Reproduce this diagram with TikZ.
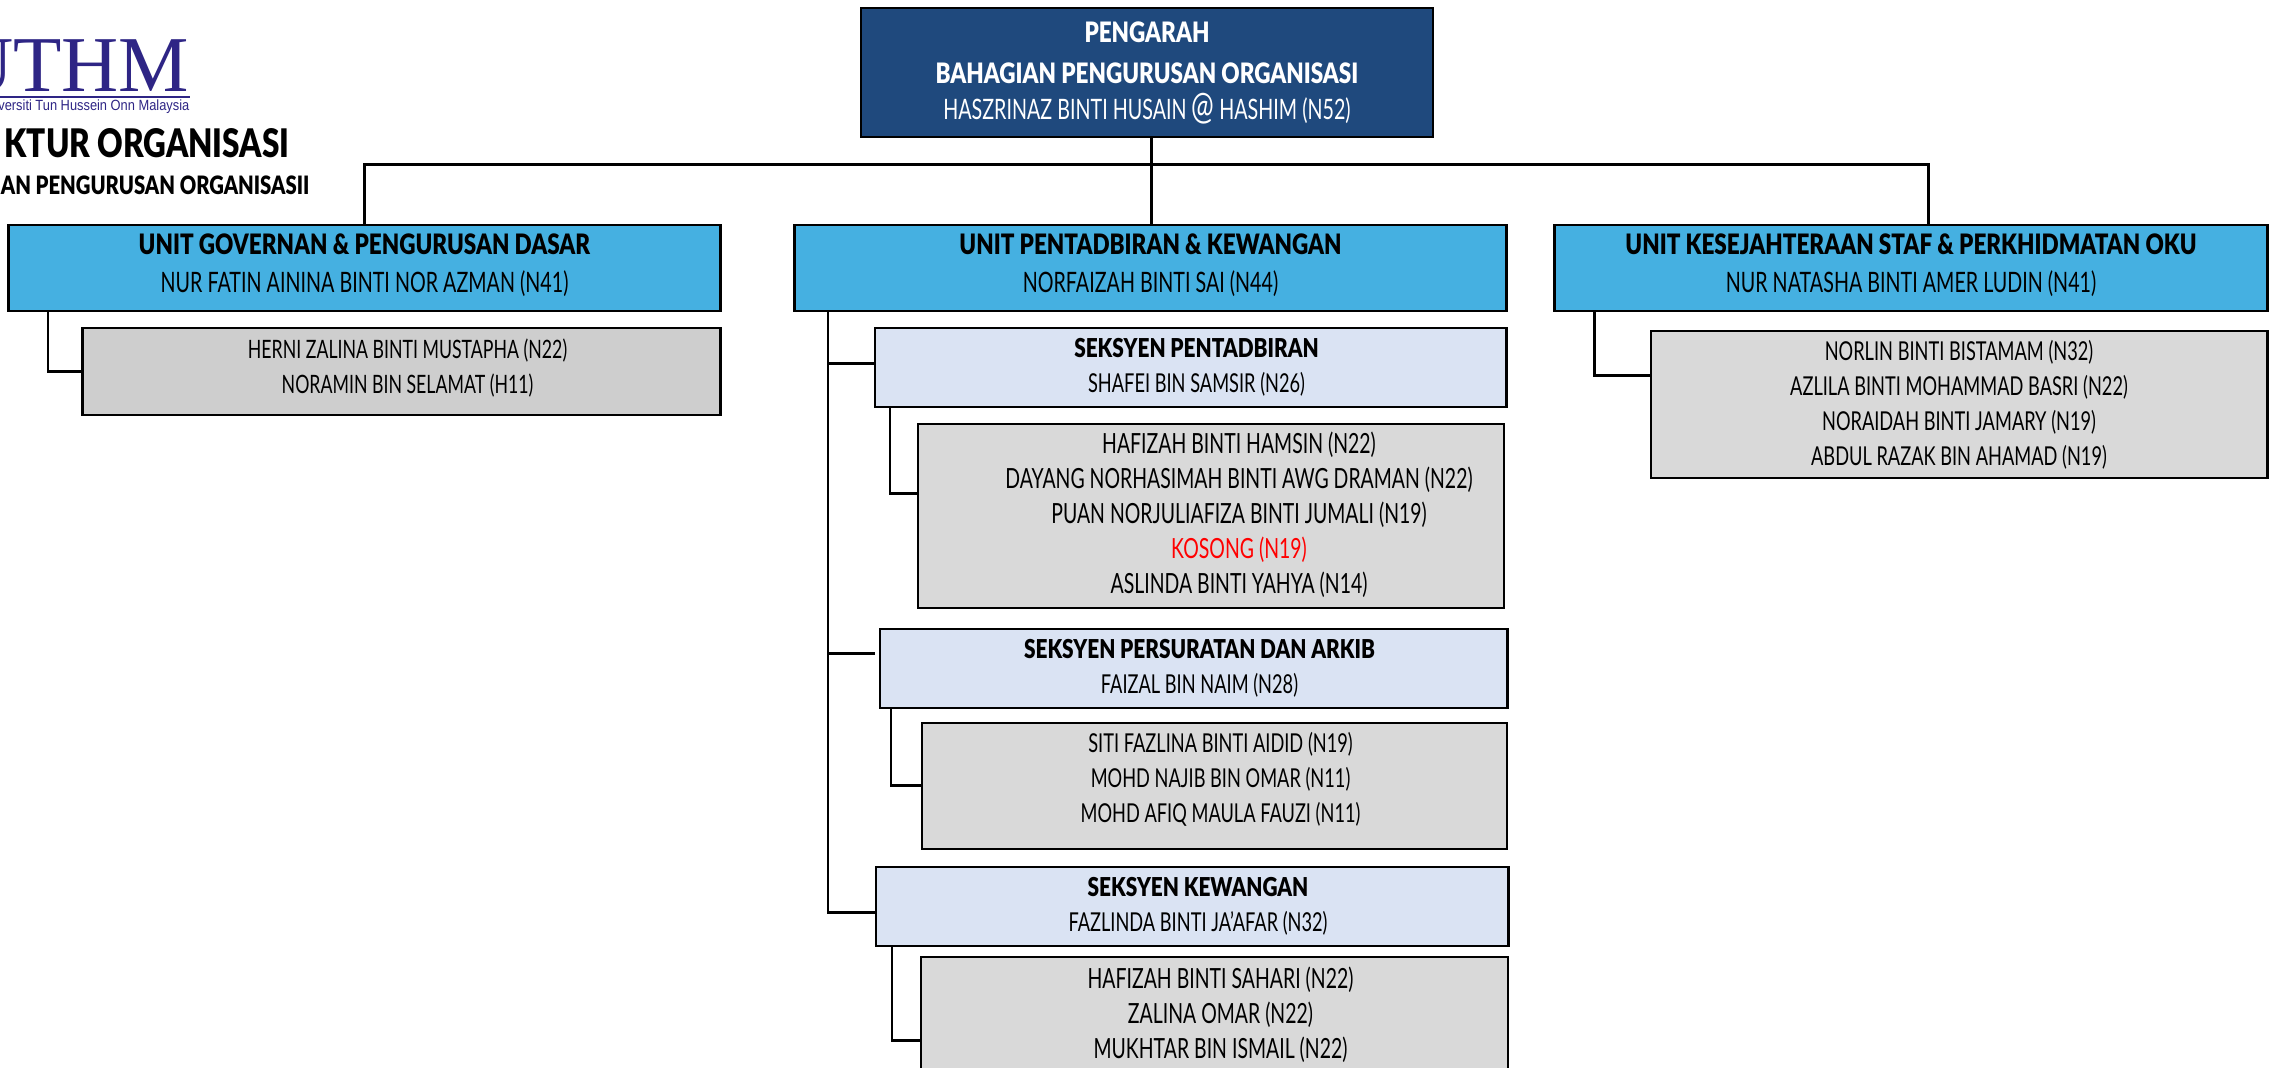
\documentclass[tikz,border=0pt]{standalone}
\usepackage{fontspec}
\setmainfont{Lato}[FakeStretch=0.70, BoldFont={Lato Black}, BoldFeatures={FakeStretch=0.80}]
\newfontfamily\logofont{Liberation Serif}
\newfontfamily\smallfont{Liberation Sans}[FakeStretch=0.87]
\definecolor{headblue}{HTML}{1F497D}
\definecolor{unitblue}{HTML}{45B0E1}
\definecolor{secblue}{HTML}{DAE3F3}
\definecolor{staffgrey}{HTML}{D9D9D9}
\definecolor{uthmblue}{HTML}{2E2585}
\newcommand{\pad}[1]{\rule[-#1]{0pt}{#1}}
\tikzset{
    box/.style={draw=black, line width=0.75pt, inner sep=0pt, align=center, font=\fontsize{8}{9.96}\selectfont},
    headbox/.style={box, fill=headblue, text=white, minimum width=5.72cm, minimum height=1.29cm},
    unitbox/.style={box, fill=unitblue, minimum height=0.86cm},
    secbox/.style={box, fill=secblue, minimum height=0.79cm, font=\fontsize{7.4}{9.96}\selectfont},
    staffbox/.style={box, fill=staffgrey, font=\fontsize{7.4}{9.96}\selectfont},
    widestaff/.style={font=\fontsize{7.9}{9.96}\selectfont},
    link/.style={draw=black, line width=0.85pt},
    title/.style={inner sep=0pt, anchor=base east},
}
\begin{document}
\begin{tikzpicture}[x=0.01cm, y=-0.01cm]
    \useasboundingbox (0,0) rectangle (2277,1068);
    \clip (0,0) rectangle (2277,1068);
    \fill[white] (0,0) rectangle (2277,1068);
% logo and title
\node[title, text=uthmblue, font=\logofont\fontsize{22.5}{24}\selectfont] (logo) at (190,92) {UTHM};
\coordinate (rulea) at (0,97);
\coordinate (ruleb) at (190,97);
\draw[uthmblue, line width=0.4pt] (rulea) -- (ruleb);
\node[title, text=uthmblue, font=\smallfont\fontsize{4.2}{5}\selectfont] (uni) at (190,111) {versiti Tun Hussein Onn Malaysia};
\node[title, font=\bfseries\fontsize{11.2}{12}\selectfont] (titlea) at (290,158) {KTUR ORGANISASI};
\node[title, font=\bfseries\fontsize{7.2}{8}\selectfont] (titleb) at (310,195) {AN PENGURUSAN ORGANISASII};
% boxes
\node[headbox] (head) at (1147,72.5) {\textbf{PENGARAH}\\[0.6mm]\textbf{BAHAGIAN PENGURUSAN ORGANISASI}\\[0.1mm]HASZRINAZ BINTI HUSAIN {\fontsize{11}{9.96}\selectfont @} HASHIM (N52)};
\node[unitbox, minimum width=7.11cm] (gov) at (364.5,268) {\textbf{UNIT GOVERNAN \& PENGURUSAN DASAR}\\[0.3mm]NUR FATIN AININA BINTI NOR AZMAN (N41)\pad{2.5pt}};
\node[unitbox, minimum width=7.11cm] (admin) at (1150.5,268) {\textbf{UNIT PENTADBIRAN \& KEWANGAN}\\[0.3mm]NORFAIZAH BINTI SAI (N44)\pad{2.5pt}};
\node[unitbox, minimum width=7.12cm] (welfare) at (1911,268) {\textbf{UNIT KESEJAHTERAAN STAF \& PERKHIDMATAN OKU}\\[0.3mm]NUR NATASHA BINTI AMER LUDIN (N41)\pad{2.5pt}};
\node[staffbox, minimum width=6.37cm, minimum height=0.87cm, fill=staffgrey!95!black, font=\fontsize{7.2}{9.96}\selectfont] (govstaff) at (401.5,371.5) {\hspace*{1.2mm}HERNI ZALINA BINTI MUSTAPHA (N22)\\\hspace*{1.2mm}NORAMIN BIN SELAMAT (H11)\pad{3pt}};
\node[staffbox, minimum width=6.16cm, minimum height=1.47cm] (welfstaff) at (1959,404.5) {NORLIN BINTI BISTAMAM (N32)\\AZLILA BINTI MOHAMMAD BASRI (N22)\\NORAIDAH BINTI JAMARY (N19)\\ABDUL RAZAK BIN AHAMAD (N19)};
\node[secbox, minimum width=6.31cm] (secadmin) at (1190.5,367.5) {\hspace*{1.2mm}\textbf{SEKSYEN PENTADBIRAN}\\\hspace*{1.2mm}SHAFEI BIN SAMSIR (N26)};
\node[staffbox, widestaff, minimum width=5.86cm, minimum height=1.84cm] (adminstaff) at (1211,516) {\hspace*{5.6mm}HAFIZAH BINTI HAMSIN (N22)\\\hspace*{5.6mm}DAYANG NORHASIMAH BINTI AWG DRAMAN (N22)\\\hspace*{5.6mm}PUAN NORJULIAFIZA BINTI JUMALI (N19)\\\hspace*{5.6mm}\textcolor{red}{KOSONG (N19)}\\\hspace*{5.6mm}ASLINDA BINTI YAHYA (N14)\pad{2pt}};
\node[secbox, minimum width=6.27cm] (secfile) at (1193.5,668.5) {\hspace*{1.2mm}\textbf{SEKSYEN PERSURATAN DAN ARKIB}\\\hspace*{1.2mm}FAIZAL BIN NAIM (N28)};
\node[staffbox, minimum width=5.85cm, minimum height=1.26cm] (filestaff) at (1214.5,786) {\hspace*{1.2mm}SITI FAZLINA BINTI AIDID (N19)\\\hspace*{1.2mm}MOHD NAJIB BIN OMAR (N11)\\\hspace*{1.2mm}MOHD AFIQ MAULA FAUZI (N11)\pad{5pt}};
\node[secbox, minimum width=6.32cm] (secfin) at (1192,906.5) {\hspace*{1.2mm}\textbf{SEKSYEN KEWANGAN}\\\hspace*{1.2mm}FAZLINDA BINTI JA’AFAR (N32)};
\node[staffbox, widestaff, minimum width=5.87cm, minimum height=1.43cm] (finstaff) at (1214.5,1028.5) {\hspace*{1.2mm}HAFIZAH BINTI SAHARI (N22)\\\hspace*{1.2mm}ZALINA OMAR (N22)\\\hspace*{1.2mm}MUKHTAR BIN ISMAIL (N22)\pad{9pt}};
% connectors
\coordinate (bus) at (1151,165);
\coordinate (trunk) at (828,913);
\coordinate (brancha) at (875,364);
\coordinate (branchb) at (875,654);
\coordinate (branchc) at (876,913);
\coordinate (enda) at (918,494);
\coordinate (endb) at (922,786);
\coordinate (endc) at (921,1041);
\coordinate (endd) at (1651,376);
\draw[link] (head.south -| bus) -- (admin.north -| bus);
\draw[link] (gov.north) |- (bus);
\draw[link] (welfare.north -| 1928,0) |- (bus);
\draw[link] (gov.south -| 48,0) |- (govstaff.west);
\draw[link] (welfare.south -| 1594,0) |- (endd);
\draw[link] (admin.south -| trunk) -- (trunk) -- (branchc);
\draw[link] (brancha -| trunk) -- (brancha);
\draw[link] (branchb -| trunk) -- (branchb);
\draw[link] (secadmin.south -| 890,0) |- (enda);
\draw[link] (secfile.south -| 891,0) |- (endb);
\draw[link] (secfin.south -| 892,0) |- (endc);
\end{tikzpicture}
\end{document}
